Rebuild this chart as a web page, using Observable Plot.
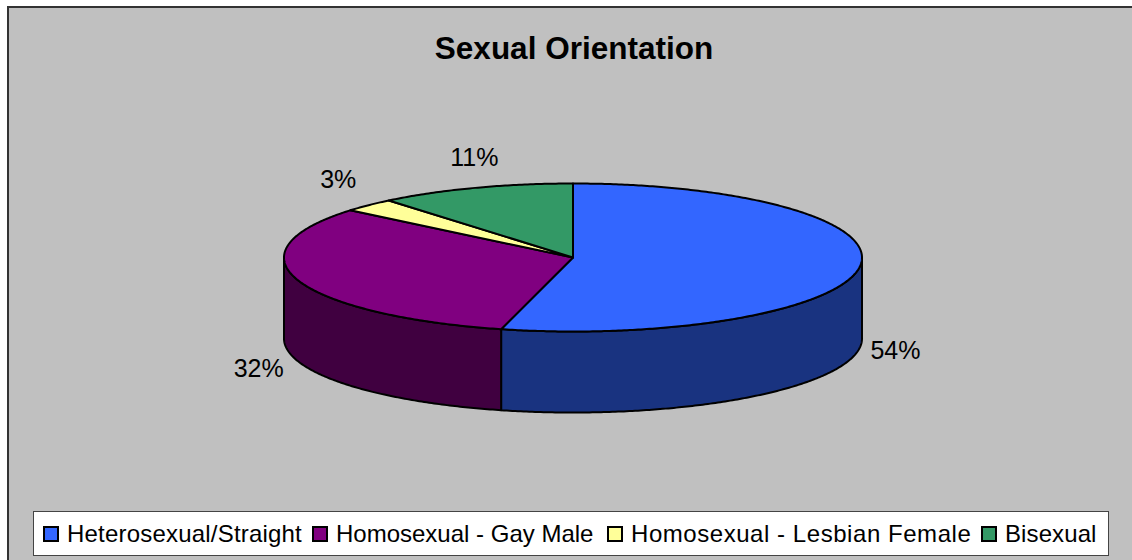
<!DOCTYPE html>
<html>
<head>
<meta charset="utf-8">
<script src="https://cdn.jsdelivr.net/npm/d3@7"></script>
<script src="https://cdn.jsdelivr.net/npm/@observablehq/plot@0.6"></script>
<style>
  html, body { margin: 0; padding: 0; background: #fff; overflow: hidden; }
  #chart { position: relative; width: 1132px; height: 560px; font-family: "Liberation Sans", Arial, sans-serif; color: #000; }
  #frame { position: absolute; left: 7px; top: 6px; right: 0; bottom: 0; background: #C0C0C0; border-left: 2px solid #333; border-top: 2px solid #333; }
  #plot { position: absolute; left: 0; top: 0; }
  #plot svg { display: block; background: transparent; }
  #title { position: absolute; left: 0; width: 1148px; top: 30px; text-align: center; font-size: 31.5px; font-weight: bold; line-height: 36px; }
  #legend { position: absolute; left: 33px; top: 511px; width: 1074px; height: 43px; background: #fff; border: 1px solid #444; }
  .item { position: absolute; top: 0; height: 43px; display: flex; align-items: center; font-size: 24px; white-space: nowrap; }
  .swatch { width: 12px; height: 12px; border: 2px solid #000; margin-right: 8px; flex: none; }
</style>
</head>
<body>
<div id="chart">
  <div id="frame"></div>
  <div id="plot"></div>
  <div id="title"></div>
  <div id="legend"></div>
</div>
<script>
const chartTitle = "Sexual Orientation";
const categories = ["Heterosexual/Straight", "Homosexual - Gay Male", "Homosexual - Lesbian Female", "Bisexual"];
const shares = [54, 32, 3, 11];
const topColors = ["#3366FF", "#800080", "#FFFF99", "#339966"];
const wallColors = ["#193380", "#400040", "#808040", "#1A4D33"];
const labelNudges = [[7, 2], [-12, 5], [-10, -20], [9, -23]];
const legendLefts = [9, 278, 573, 947];
const legendSpacing = ["0.2px", "0px", "0.55px", "0.1px"];

const depth = 1.095; // wall height in units of the ellipse's y radius
const total = d3.sum(shares);
const rad = p => p / total * 2 * Math.PI;

let cum = 0;
const slices = shares.map((v, i) => {
  const s = { i, v, a0: rad(cum), a1: rad(cum + v) };
  cum += v;
  s.mid = (s.a0 + s.a1) / 2;
  return s;
});

const arc = (a0, a1) => {
  const n = Math.max(2, Math.ceil((a1 - a0) / 0.01));
  return d3.range(n + 1).map(k => a0 + (a1 - a0) * k / n);
};

// top faces
const topRows = slices.flatMap(s => {
  const id = "top" + s.i;
  const pts = [[0, 0], ...arc(s.a0, s.a1).map(a => [Math.sin(a), Math.cos(a)]), [0, 0]];
  return pts.map(([x, y]) => ({ id, x, y, color: topColors[s.i] }));
});

// visible outer walls: front half of the ellipse only
const wallRows = slices.flatMap(s => {
  const a0 = Math.max(s.a0, Math.PI / 2), a1 = Math.min(s.a1, 3 * Math.PI / 2);
  if (a1 <= a0) return [];
  const id = "wall" + s.i;
  const up = arc(a0, a1).map(a => [Math.sin(a), Math.cos(a)]);
  const low = up.slice().reverse().map(([x, y]) => [x, y - depth]);
  return [...up, ...low, up[0]].map(([x, y]) => ({ id, x, y, color: wallColors[s.i] }));
});

const labelMarks = slices.map(s => {
  const front = Math.cos(s.mid) < 0;
  const d = {
    x: 1.1 * Math.sin(s.mid),
    y: 1.1 * Math.cos(s.mid) - (front ? depth : 0),
    t: s.v + "%"
  };
  return Plot.text([d], {
    x: "x", y: "y", text: "t",
    dx: labelNudges[s.i][0], dy: labelNudges[s.i][1],
    fontSize: 25, fill: "#000", fontFamily: "Liberation Sans, Arial, sans-serif"
  });
});

const faceOptions = { x: "x", y: "y", z: "id", fill: "color", stroke: "#000", strokeWidth: 2, curve: "linear", strokeLinejoin: "round" };

const plot = Plot.plot({
  width: 1132,
  height: 560,
  margin: 0,
  x: { domain: [-1, 1], range: [283.5, 861.5], axis: null },
  y: { domain: [-1, 1], range: [331, 183], axis: null },
  color: { type: "identity" },
  style: { background: "transparent" },
  marks: [
    Plot.line(wallRows, faceOptions),
    Plot.line(topRows, faceOptions),
    ...labelMarks
  ]
});
document.getElementById("plot").appendChild(plot);

document.getElementById("title").textContent = chartTitle;
const legend = d3.select("#legend");
categories.forEach((c, i) => {
  const item = legend.append("div").attr("class", "item")
    .style("left", legendLefts[i] + "px")
    .style("letter-spacing", legendSpacing[i]);
  item.append("div").attr("class", "swatch").style("background", topColors[i]);
  item.append("span").text(c);
});
</script>
</body>
</html>
